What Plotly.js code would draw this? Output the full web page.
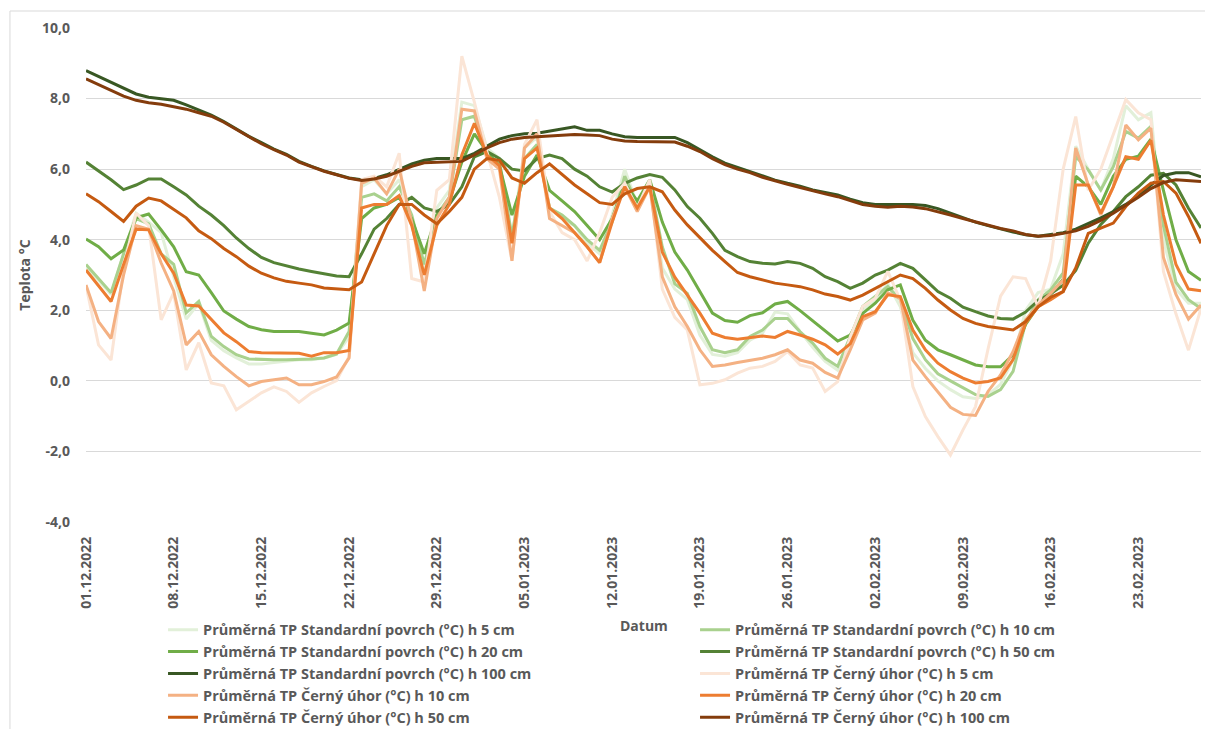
<!DOCTYPE html>
<html><head><meta charset="utf-8">
<script src="https://cdn.plot.ly/plotly-3.0.1.min.js"></script>
<style>html,body{margin:0;padding:0;background:#fff;}#chart{width:1205px;height:729px;}</style>
</head><body><div id="chart"></div>
<script>
var dates = [
"2022-12-01","2022-12-02","2022-12-03","2022-12-04","2022-12-05","2022-12-06","2022-12-07","2022-12-08","2022-12-09","2022-12-10",
"2022-12-11","2022-12-12","2022-12-13","2022-12-14","2022-12-15","2022-12-16","2022-12-17","2022-12-18","2022-12-19","2022-12-20",
"2022-12-21","2022-12-22","2022-12-23","2022-12-24","2022-12-25","2022-12-26","2022-12-27","2022-12-28","2022-12-29","2022-12-30",
"2022-12-31","2023-01-01","2023-01-02","2023-01-03","2023-01-04","2023-01-05","2023-01-06","2023-01-07","2023-01-08","2023-01-09",
"2023-01-10","2023-01-11","2023-01-12","2023-01-13","2023-01-14","2023-01-15","2023-01-16","2023-01-17","2023-01-18","2023-01-19",
"2023-01-20","2023-01-21","2023-01-22","2023-01-23","2023-01-24","2023-01-25","2023-01-26","2023-01-27","2023-01-28","2023-01-29",
"2023-01-30","2023-01-31","2023-02-01","2023-02-02","2023-02-03","2023-02-04","2023-02-05","2023-02-06","2023-02-07","2023-02-08",
"2023-02-09","2023-02-10","2023-02-11","2023-02-12","2023-02-13","2023-02-14","2023-02-15","2023-02-16","2023-02-17","2023-02-18",
"2023-02-19","2023-02-20","2023-02-21","2023-02-22","2023-02-23","2023-02-24","2023-02-25","2023-02-26","2023-02-27","2023-02-28"];

var yTickVals = [-4, -2, 0, 2, 4, 6, 8, 10];
var yTickText = ["-4,0", "-2,0", "0,0", "2,0", "4,0", "6,0", "8,0", "10,0"];
var xTitle = "Datum";
var yTitle = "Teplota °C";

var sp5 = [3.2,2.85,2.45,3.6,4.75,4.5,4.2,2.95,1.75,2.2,
1.15,0.85,0.65,0.48,0.48,0.52,0.55,0.6,0.6,0.65,
0.75,1.25,5.5,5.7,5.3,5.7,4.6,3.2,4.9,5.4,
7.9,7.8,6.6,6.3,4.0,6.6,6.9,4.9,4.6,4.4,
3.9,3.6,4.7,6.0,5.0,5.6,3.2,2.6,2.3,1.3,
0.75,0.7,0.8,1.15,1.35,1.95,1.9,1.4,0.95,0.55,
0.3,1.1,2.0,2.3,2.75,2.1,0.8,0.35,0.0,-0.25,
-0.45,-0.5,-0.4,-0.1,0.6,2.0,2.5,2.6,3.6,6.65,
6.0,5.4,6.3,7.8,7.4,7.6,4.0,2.6,2.2,2.2];

var sp10 = [3.3,2.9,2.5,3.6,4.6,4.45,3.6,3.3,1.93,2.25,
1.26,0.97,0.74,0.62,0.6,0.6,0.6,0.6,0.62,0.65,
0.76,1.4,5.2,5.3,5.1,5.5,4.7,3.3,4.7,5.2,
7.4,7.5,6.4,6.2,4.1,6.3,6.7,4.9,4.7,4.4,
4.0,3.7,4.5,5.8,5.0,5.6,3.8,2.75,2.48,1.54,
0.88,0.8,0.88,1.26,1.44,1.77,1.77,1.39,1.07,0.64,
0.41,1.25,2.11,2.39,2.67,2.3,1.2,0.6,0.2,0.0,
-0.2,-0.39,-0.44,-0.25,0.27,1.64,2.3,2.58,3.06,6.36,
5.98,5.41,6.07,7.07,6.88,7.21,4.4,2.8,2.3,2.05];

var sp20 = [4.02,3.8,3.46,3.71,4.62,4.73,4.28,3.8,3.09,3.0,
2.5,1.98,1.75,1.54,1.45,1.4,1.4,1.4,1.35,1.3,
1.44,1.64,4.6,4.9,5.0,5.2,4.6,3.6,4.7,5.1,
6.2,7.0,6.5,6.1,4.7,5.8,6.4,5.4,5.1,4.8,
4.4,4.0,4.6,5.6,5.1,5.7,4.5,3.65,3.14,2.53,
1.92,1.71,1.66,1.85,1.93,2.18,2.25,1.99,1.71,1.41,
1.13,1.3,1.91,2.2,2.58,2.72,1.72,1.15,0.88,0.74,
0.6,0.45,0.4,0.4,0.74,1.6,2.12,2.45,2.88,5.8,
5.5,5.0,5.8,6.28,6.37,6.85,5.4,4.0,3.1,2.85];

var sp50 = [6.2,5.95,5.7,5.42,5.55,5.72,5.72,5.5,5.27,4.95,
4.7,4.4,4.05,3.75,3.5,3.35,3.25,3.17,3.1,3.03,
2.97,2.95,3.6,4.3,4.6,5.0,5.2,4.9,4.8,5.0,
5.5,6.35,6.5,6.3,6.0,5.95,6.3,6.4,6.3,6.0,
5.8,5.5,5.35,5.6,5.75,5.85,5.77,5.41,4.94,4.61,
4.18,3.7,3.52,3.38,3.33,3.31,3.38,3.33,3.19,2.95,
2.81,2.62,2.77,3.0,3.14,3.33,3.19,2.86,2.53,2.34,
2.09,1.96,1.84,1.77,1.75,1.95,2.28,2.47,2.71,3.13,
3.9,4.43,4.8,5.22,5.5,5.83,5.88,5.55,4.89,4.33];

var sp100 = [8.79,8.62,8.45,8.3,8.13,8.04,8.0,7.95,7.82,7.67,
7.53,7.35,7.13,6.93,6.75,6.57,6.42,6.22,6.08,5.95,
5.85,5.75,5.7,5.74,5.84,6.0,6.15,6.25,6.3,6.3,
6.3,6.45,6.65,6.85,6.95,7.0,7.02,7.08,7.15,7.2,
7.1,7.1,7.0,6.92,6.9,6.9,6.92,6.9,6.75,6.54,
6.35,6.17,6.05,5.93,5.8,5.69,5.6,5.52,5.41,5.34,
5.27,5.15,5.05,5.0,4.99,5.0,5.0,4.97,4.88,4.75,
4.62,4.5,4.4,4.3,4.22,4.14,4.1,4.15,4.2,4.3,
4.45,4.62,4.8,5.0,5.25,5.55,5.82,5.9,5.9,5.78];

var cu5 = [2.7,1.02,0.59,3.2,4.75,4.4,1.73,2.5,0.31,1.08,
-0.06,-0.14,-0.82,-0.59,-0.34,-0.17,-0.3,-0.61,-0.34,-0.16,
0.01,0.69,5.7,5.8,5.5,6.45,2.9,2.8,5.4,5.7,
9.2,7.9,6.5,5.2,3.4,6.7,7.4,4.8,4.2,4.0,
3.4,4.2,5.2,5.6,4.9,5.7,2.6,1.8,1.44,-0.11,
-0.07,0.03,0.22,0.36,0.41,0.55,0.83,0.45,0.36,-0.3,
-0.02,1.25,2.11,2.34,3.1,2.29,-0.16,-1.01,-1.58,-2.1,
-1.39,-0.73,0.9,2.4,2.95,2.9,2.1,3.4,6.0,7.49,
5.4,6.0,7.0,7.97,7.6,7.4,3.1,1.9,0.87,2.05];

var cu10 = [2.72,1.68,1.2,3.0,4.4,4.3,3.34,2.55,1.02,1.4,
0.74,0.41,0.12,-0.14,-0.02,0.03,0.08,-0.11,-0.11,-0.02,
0.11,0.65,5.6,5.75,5.3,6.0,4.5,2.55,4.6,5.2,
7.7,7.65,6.3,6.0,3.4,6.6,7.0,4.6,4.4,4.2,
3.8,3.35,4.6,5.5,4.8,5.5,2.95,2.1,1.54,0.88,
0.41,0.45,0.52,0.59,0.64,0.74,0.88,0.59,0.5,0.24,
0.08,0.88,1.73,1.92,2.49,2.34,0.59,0.12,-0.3,-0.75,
-0.95,-0.98,-0.3,0.17,0.83,1.73,2.15,2.48,2.86,6.6,
5.56,4.7,5.5,7.25,6.83,7.16,3.5,2.45,1.75,2.15];

var cu20 = [3.14,2.7,2.25,3.3,4.3,4.28,3.6,3.05,2.15,2.12,
1.73,1.36,1.11,0.83,0.8,0.8,0.8,0.78,0.7,0.8,
0.8,0.86,4.9,5.0,5.0,5.25,4.4,3.0,4.4,5.0,
6.4,7.3,6.4,6.1,3.9,6.3,6.6,4.9,4.6,4.2,
3.8,3.35,4.5,5.5,4.9,5.5,3.65,2.94,2.44,1.92,
1.35,1.23,1.18,1.23,1.27,1.23,1.4,1.3,1.18,1.02,
0.76,1.05,1.82,1.96,2.44,2.39,1.44,0.88,0.5,0.26,
0.08,-0.06,-0.02,0.08,0.6,1.64,2.1,2.3,2.53,5.55,
5.55,4.75,5.5,6.35,6.28,6.82,4.7,3.3,2.6,2.55];

var cu50 = [5.3,5.08,4.8,4.52,4.95,5.18,5.1,4.87,4.62,4.25,
4.03,3.75,3.52,3.25,3.05,2.92,2.82,2.77,2.72,2.63,
2.6,2.58,2.8,3.6,4.4,5.0,5.0,4.7,4.45,4.8,
5.2,6.0,6.3,6.25,5.75,5.6,5.9,6.15,5.85,5.55,
5.3,5.05,5.0,5.3,5.45,5.5,5.36,4.84,4.42,4.07,
3.7,3.38,3.07,2.95,2.86,2.77,2.72,2.67,2.58,2.46,
2.39,2.29,2.43,2.62,2.81,3.0,2.9,2.62,2.29,2.01,
1.77,1.63,1.54,1.49,1.44,1.68,2.1,2.37,2.53,3.2,
4.18,4.33,4.47,4.94,5.32,5.6,5.65,5.32,4.66,3.9];

var cu100 = [8.56,8.4,8.23,8.07,7.95,7.88,7.84,7.78,7.7,7.6,
7.5,7.33,7.13,6.92,6.72,6.55,6.4,6.2,6.06,5.94,
5.84,5.74,5.68,5.72,5.8,5.95,6.08,6.18,6.2,6.2,
6.22,6.4,6.6,6.75,6.85,6.9,6.92,6.93,6.97,6.98,
6.97,6.95,6.85,6.8,6.78,6.78,6.78,6.77,6.65,6.5,
6.3,6.13,6.0,5.9,5.77,5.66,5.57,5.48,5.38,5.3,
5.22,5.1,5.0,4.95,4.92,4.95,4.93,4.88,4.8,4.7,
4.6,4.5,4.4,4.32,4.25,4.15,4.1,4.12,4.18,4.25,
4.38,4.55,4.75,4.97,5.2,5.45,5.62,5.7,5.68,5.65];

var seriesNames = [
"Průměrná TP Standardní povrch (°C) h 5 cm",
"Průměrná TP Standardní povrch (°C) h 10 cm",
"Průměrná TP Standardní povrch (°C) h 20 cm",
"Průměrná TP Standardní povrch (°C) h 50 cm",
"Průměrná TP Standardní povrch (°C) h 100 cm",
"Průměrná TP Černý úhor (°C) h 5 cm",
"Průměrná TP Černý úhor (°C) h 10 cm",
"Průměrná TP Černý úhor (°C) h 20 cm",
"Průměrná TP Černý úhor (°C) h 50 cm",
"Průměrná TP Černý úhor (°C) h 100 cm"];
var seriesValues = [sp5, sp10, sp20, sp50, sp100, cu5, cu10, cu20, cu50, cu100];
var seriesColors = ["#E2F0D9","#A9D18E","#70AD47","#548235","#385723",
                    "#FBE5D6","#F4B183","#ED7D31","#C55A11","#843C0C"];

var traces = seriesValues.map(function(v, i){
  return {x: dates, y: v, type: "scatter", mode: "lines", name: seriesNames[i],
          line: {color: seriesColors[i], width: 3}, hoverinfo: "x+y+name"};
});

var gray = "#595959";
var gridc = "#D9D9D9";
var fontB = {family: "Open Sans, sans-serif", size: 14, color: gray, weight: "bold"};
var fontL = {family: "Open Sans, sans-serif", size: 14.5, color: gray, weight: "bold"};
var xr = ["2022-12-01", "2023-02-28"];
var week = 7 * 86400000;

var layout = {
  width: 1205, height: 729,
  margin: {l: 86, r: 4, t: 28, b: 207},
  paper_bgcolor: "#ffffff", plot_bgcolor: "#ffffff",
  separators: ", ",
  showlegend: true,
  legend: {orientation: "h", xref: "container", yref: "container", x: 0.1353, y: 0.158,
           xanchor: "left", yanchor: "top", entrywidth: 487, entrywidthmode: "pixels",
           font: fontL, bgcolor: "rgba(0,0,0,0)", traceorder: "normal"},
  xaxis: {type: "date", range: xr, tick0: "2022-12-01", dtick: week, tickformat: "%d.%m.%Y",
          tickangle: -90, tickfont: fontB, showgrid: false, zeroline: false, showline: false,
          ticks: "", ticklabelstandoff: 11, automargin: false},
  xaxis2: {type: "date", range: xr, tick0: "2022-12-01", dtick: week, overlaying: "x",
           anchor: "free", position: 4/14, side: "bottom", ticks: "outside", ticklen: 5,
           tickcolor: gridc, tickwidth: 1, showticklabels: false, showgrid: false,
           zeroline: false, showline: false, automargin: false},
  yaxis: {range: [-4, 10], tickvals: yTickVals, ticktext: yTickText, tickfont: fontB,
          gridcolor: gridc, gridwidth: 1, zeroline: true, zerolinecolor: gridc, zerolinewidth: 1,
          showline: false, ticks: "", ticklabelstandoff: 15, automargin: false,
          title: {text: yTitle, font: fontB, standoff: 8}},
  annotations: [
    {text: xTitle, xref: "paper", yref: "paper", x: 0.5, y: -0.2105, xanchor: "center",
     yanchor: "middle", showarrow: false, font: fontB}
  ],
  shapes: [
    {type: "line", xref: "paper", yref: "paper", x0: -0.0682, x1: 1.1, y0: 1.0344, y1: 1.0344,
     line: {color: gridc, width: 1}},
    {type: "line", xref: "paper", yref: "paper", x0: -0.0682, x1: -0.0682, y0: 1.0344, y1: -0.5,
     line: {color: gridc, width: 1}}
  ]
};

Plotly.newPlot("chart", traces, layout, {displayModeBar: false, staticPlot: true});
</script>
</body></html>
